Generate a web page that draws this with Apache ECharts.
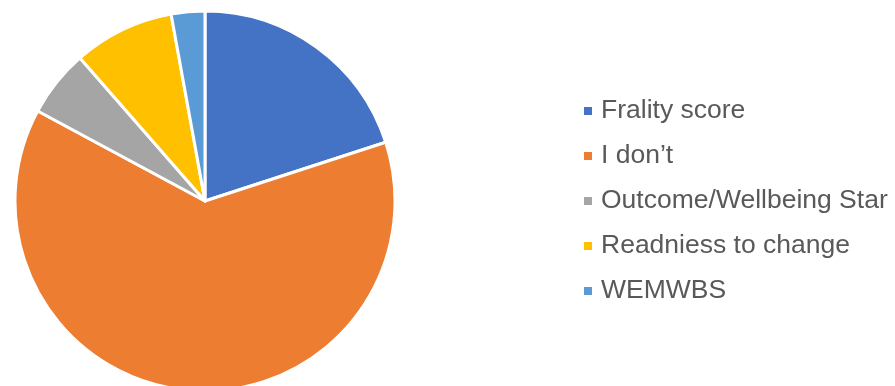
<!DOCTYPE html>
<html>
<head>
<meta charset="utf-8">
<script src="https://cdn.jsdelivr.net/npm/echarts@6/dist/echarts.min.js"></script>
<style>
  html, body { margin: 0; padding: 0; background: #fff; }
  #chart { width: 895px; height: 386px; }
</style>
</head>
<body>
<div id="chart"></div>
<script>
// Assessment tools in use (response counts)
const categories = ['Frality score', 'I don\u2019t', 'Outcome/Wellbeing Star', 'Readniess to change', 'WEMWBS'];
const counts = [7, 22, 2, 3, 1];
const colors = ['#4472C4', '#ED7D31', '#A5A5A5', '#FFC000', '#5B9BD5'];

const chart = echarts.init(document.getElementById('chart'), null, { renderer: 'canvas' });

chart.setOption({
  animation: false,
  color: colors,
  legend: {
    orient: 'vertical',
    left: 577,
    top: 91,
    icon: 'rect',
    itemWidth: 10,
    itemHeight: 10,
    itemGap: 15,
    textStyle: {
      fontFamily: 'Liberation Sans, Arial, sans-serif',
      fontSize: 26.5,
      lineHeight: 30,
      color: '#595959',
      padding: [0, 0, 0, 3]
    },
    data: categories
  },
  series: [{
    type: 'pie',
    center: [205, 201],
    radius: 190,
    startAngle: 90,
    clockwise: true,
    label: { show: false },
    labelLine: { show: false },
    itemStyle: { borderColor: '#ffffff', borderWidth: 3 },
    emphasis: { disabled: true },
    data: categories.map((name, i) => ({ name, value: counts[i] }))
  }]
});
</script>
</body>
</html>
